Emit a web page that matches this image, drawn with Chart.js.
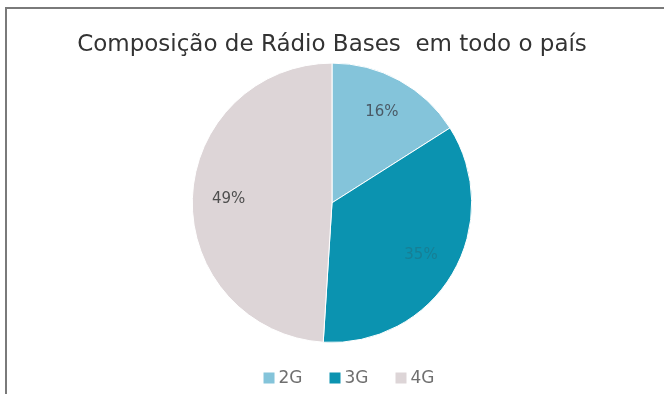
<!DOCTYPE html>
<html>
<head>
<meta charset="utf-8">
<script src="https://cdn.jsdelivr.net/npm/chart.js@4.4.0/dist/chart.umd.min.js"></script>
<style>
  html, body { margin: 0; padding: 0; background: #ffffff; }
  #wrap { position: relative; width: 664px; height: 394px; }
  #frame { position: absolute; left: 5px; top: 7px; right: 0; bottom: 0;
           border-left: 2px solid #7a7a7a; border-top: 2px solid #7a7a7a; pointer-events: none; }
  canvas { position: absolute; left: 0; top: 0; }
</style>
</head>
<body>
<div id="wrap">
  <canvas id="c" width="664" height="394"></canvas>
  <div id="frame"></div>
</div>
<script>
// Radio base station mix by technology
const categories = ['2G', '3G', '4G'];
const shares = [16, 35, 49];
const sliceColors = ['#84c4da', '#0b93b0', '#ddd5d7'];
const labelColors = ['#4a5a66', '#177f95', '#4f4f4f'];
const titleText = 'Composição de Rádio Bases  em todo o país';

// Writes each slice's percentage inside it, along the slice's middle angle
const sliceLabels = {
  id: 'sliceLabels',
  afterDatasetsDraw(chart) {
    const ctx = chart.ctx;
    const meta = chart.getDatasetMeta(0);
    ctx.save();
    ctx.font = '15px "DejaVu Sans", sans-serif';
    ctx.textAlign = 'center';
    ctx.textBaseline = 'middle';
    meta.data.forEach((arc, i) => {
      const p = arc.getProps(['x', 'y', 'startAngle', 'endAngle', 'outerRadius'], true);
      const mid = (p.startAngle + p.endAngle) / 2;
      const r = p.outerRadius * 0.74;
      ctx.fillStyle = labelColors[i];
      ctx.fillText(shares[i] + '%', p.x + Math.cos(mid) * r, p.y + Math.sin(mid) * r);
    });
    ctx.restore();
  }
};

// Row of coloured squares with the technology names under the pie
const bottomLegend = {
  id: 'bottomLegend',
  afterDraw(chart) {
    const ctx = chart.ctx;
    const box = 11, gap = 4, itemGap = 27;
    ctx.save();
    ctx.font = '17px "DejaVu Sans", sans-serif';
    ctx.textBaseline = 'middle';
    const widths = categories.map(c => box + gap + ctx.measureText(c).width);
    const total = widths.reduce((a, b) => a + b, 0) + itemGap * (categories.length - 1);
    const cx = (chart.chartArea.left + chart.chartArea.right) / 2 + 17;
    const y = chart.chartArea.bottom + 35;
    let x = cx - total / 2;
    categories.forEach((c, i) => {
      ctx.fillStyle = sliceColors[i];
      ctx.fillRect(x, y - box / 2, box, box);
      ctx.fillStyle = '#6f6f6f';
      ctx.fillText(c, x + box + gap, y + 1);
      x += widths[i] + itemGap;
    });
    ctx.restore();
  }
};

new Chart(document.getElementById('c'), {
  type: 'pie',
  data: {
    labels: categories,
    datasets: [{
      data: shares,
      backgroundColor: sliceColors,
      borderColor: '#ffffff',
      borderWidth: 1
    }]
  },
  options: {
    responsive: false,
    animation: false,
    layout: { padding: { top: 0, bottom: 51, left: 0, right: 0 } },
    plugins: {
      title: {
        display: true,
        text: titleText,
        color: '#333333',
        font: { family: '"DejaVu Sans", sans-serif', size: 23, weight: 'normal' },
        padding: { top: 31, bottom: 4 }
      },
      legend: { display: false },
      tooltip: { enabled: false }
    }
  },
  plugins: [sliceLabels, bottomLegend]
});
</script>
</body>
</html>
